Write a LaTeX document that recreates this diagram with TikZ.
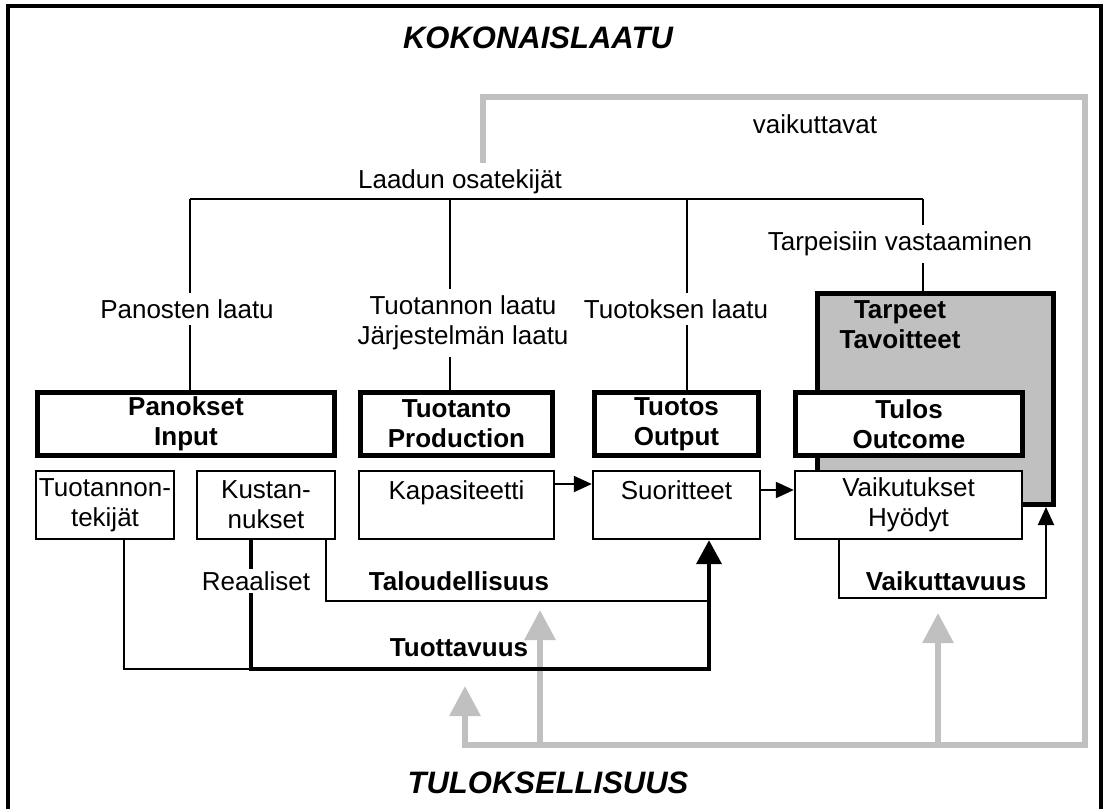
\documentclass[tikz,border=0pt]{standalone}
\usepackage{fontspec}
\setmainfont{Liberation Sans}
\usetikzlibrary{arrows.meta}
\definecolor{loopgray}{RGB}{192,192,192}

\begin{document}
\fontsize{13}{15}\selectfont
\begin{tikzpicture}
[x=0.5pt, y=-0.5pt,
  bigbox/.style={draw, line width=2.5pt, fill=white, font=\bfseries,
    align=center, inner sep=0pt, minimum height=31.5pt},
  smallbox/.style={draw, line width=1.2pt, fill=white, align=center,
    inner sep=1pt, minimum height=34pt},
  labeldecorate/.style={inner sep=3pt, align=center},
  linedecorate/.style={-, line width=1pt},
  thickdecorate/.style={-, line width=2pt},
  grayloop/.style={draw=loopgray, line width=3pt,
    -{Triangle[length=15pt,width=15pt]}},
  tipsmall/.style={-{Triangle[length=9pt,width=8pt]}},
  tipbig/.style={-{Triangle[length=12pt,width=12.5pt]}},
  titledecorate/.style={font=\fontsize{15.5}{18}\selectfont\bfseries\itshape}]
\useasboundingbox (0,0) rectangle (1107,809);
%% frame and titles
\draw[line width=2pt] (8,809) -- (8,6) -- (1101,6) -- (1101,809);
\node[titledecorate] (kokonais) at (538,38) {KOKONAISLAATU};
\node[titledecorate] (tuloksell) at (548,783) {TULOKSELLISUUS};
%% quality labels
\node[labeldecorate] (laadun) at (460,182) {Laadun osatekijät};
\foreach \nodename/\x/\y/\nodetext in {panlaatu/187/309/Panosten laatu,
  tuotlaatu/463/323/{Tuotannon laatu\\Järjestelmän laatu},
  tuotoslaatu/676/309/Tuotoksen laatu, tarplaatu/900/244/Tarpeisiin vastaaminen}
{
  \node[labeldecorate] (\nodename) at (\x,\y) {\nodetext};
}
\node (vaikuttavat) at (815,124) {vaikuttavat};
%% needs box behind the outcome box
\node[draw, line width=2.5pt, fill=loopgray, minimum width=118pt,
  minimum height=105.5pt] (tarpeet) at (935.5,399) {};
\node[font=\bfseries, align=center, anchor=north, inner sep=0pt]
  (tarpeettext) at (900,300) {Tarpeet\\Tavoitteet};
%% boxes
\foreach \boxname/\x/\w/\boxtext in {panokset/186/148.5/{Panokset\\Input},
  tuotanto/456.5/96/{Tuotanto\\Production}, tuotos/676.5/82/{Tuotos\\Output},
  tulos/909/113.5/{Tulos\\Outcome}}
{
  \node[bigbox, minimum width=\w pt] (\boxname) at (\x,424) {\boxtext};
}
\foreach \boxname/\x/\w/\boxtext in {tekijat/105/69/{Tuotannon-\\tekijät},
  kustannukset/266/69/{Kustan-\\nukset}, kapasiteetti/456.5/97.5/{Kapasiteetti\\~},
  suoritteet/676.5/83.5/{Suoritteet\\~}, vaikutukset/908.5/113.5/{Vaikutukset\\Hyödyt}}
{
  \node[smallbox, minimum width=\w pt] (\boxname) at (\x,505) {\boxtext};
}
%% tree of quality components
\foreach \name/\x in {qone/190, qtwo/450, qthree/687, qfour/923}
{
  \coordinate (\name) at (\x,199);
}
\draw[linedecorate] (qone) -- (qfour);
\foreach \startnode/\labelnode/\boxnode in {qone/panlaatu/panokset,
  qtwo/tuotlaatu/tuotanto, qthree/tuotoslaatu/tuotos, qfour/tarplaatu/tarpeet}
{
  \draw[linedecorate] (\startnode) -- (\startnode |- \labelnode.north);
  \draw[linedecorate] (\startnode |- \labelnode.south) -- (\startnode |- \boxnode.north);
}
%% feedback loop
\foreach \name/\x/\y in {gstart/483/163, gnw/483/97, gne/1085/97, gse/1085/745,
  gsw/465/745, gmid/540/745, gright/938/745,
  ttuot/465/686, ttalo/540/610, tvaik/938/613}
{
  \coordinate (\name) at (\x,\y);
}
\draw[grayloop] (gstart) -- (gnw) -- (gne) -- (gse) -- (gsw) -- (ttuot);
\path
\foreach \startnode/\endnode in {gmid/ttalo, gright/tvaik}
{
  (\startnode) edge[grayloop] (\endnode)
};
%% measures below the boxes
\foreach \name/\x/\y in {aone/124/669, atwo/251/669, athree/709/669,
  bone/326/601, btwo/709/601, cone/839/598, ctwo/1046/598,
  kone/0/484, ktwo/0/490}
{
  \coordinate (\name) at (\x,\y);
}
\draw[linedecorate] (aone |- tekijat.south) -- (aone) -- (atwo);
\draw[linedecorate] (bone |- kustannukset.south) -- (bone) -- (btwo);
\draw[thickdecorate, tipbig] (atwo |- kustannukset.south) -- (atwo) -- (athree)
  -- (athree |- suoritteet.south);
\draw[linedecorate, tipsmall] (cone |- vaikutukset.south) -- (cone) -- (ctwo)
  -- (ctwo |- tarpeet.south);
\draw[linedecorate, tipsmall] (kapasiteetti.east |- kone) -- (suoritteet.west |- kone);
\draw[linedecorate, tipsmall] (suoritteet.east |- ktwo) -- (vaikutukset.west |- ktwo);
\node[fill=white, inner sep=1pt] (reaaliset) at (256,581) {Reaaliset};
\node[font=\bfseries] (taloudellisuus) at (459,581) {Taloudellisuus};
\node[font=\bfseries] (tuottavuus) at (459,648) {Tuottavuus};
\node[font=\bfseries] (vaikuttavuus) at (946,581) {Vaikuttavuus};
\end{tikzpicture}
\end{document}
